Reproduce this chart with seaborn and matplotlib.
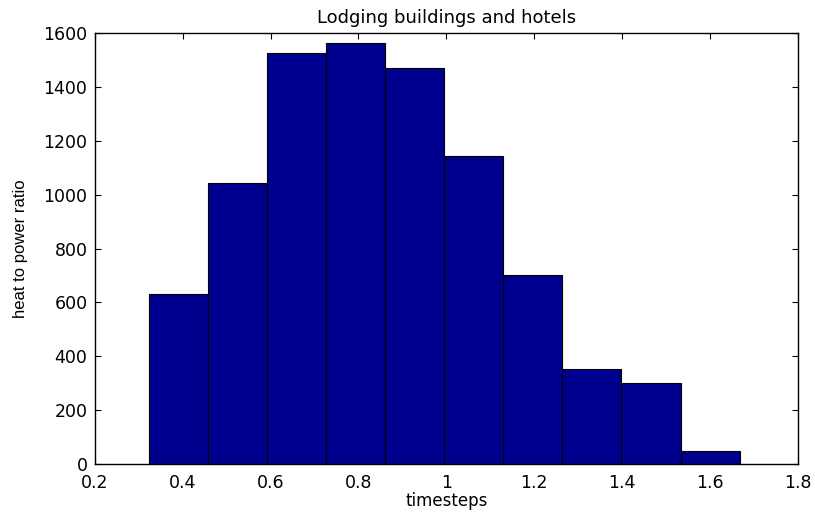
import numpy as np
import pandas as pd
import matplotlib
matplotlib.use("Agg")
import matplotlib.pyplot as plt
import seaborn as sns

# Histogram of heat-to-power ratios
bin_start = 0.323
bin_width = 0.1345
counts = [630, 1045, 1527, 1564, 1471, 1143, 701, 352, 300, 48]
x_ticks = [0.2, 0.4, 0.6, 0.8, 1.0, 1.2, 1.4, 1.6, 1.8]
x_tick_labels = ["0.2", "0.4", "0.6", "0.8", "1", "1.2", "1.4", "1.6", "1.8"]
y_ticks = [0, 200, 400, 600, 800, 1000, 1200, 1400, 1600]

edges = bin_start + bin_width * np.arange(len(counts) + 1)
centers = (edges[:-1] + edges[1:]) / 2
df = pd.DataFrame({"ratio": centers, "count": counts})

sns.set_theme(style="white")
plt.rcParams["font.family"] = ["DejaVu Sans"]
plt.rcParams["text.color"] = "black"
plt.rcParams["axes.labelcolor"] = "black"

fig = plt.figure(figsize=(8.15, 5.14), dpi=100)
ax = fig.add_axes([0.1166, 0.0973, 0.8620, 0.8379])

sns.histplot(data=df, x="ratio", weights="count",
             binwidth=bin_width, binrange=(edges[0], edges[-1]), ax=ax,
             color="#00008F", edgecolor="black", linewidth=0.8, alpha=1.0)

ax.set_xlim(0.2, 1.8)
ax.set_ylim(0, 1600)
ax.set_xticks(x_ticks)
ax.set_xticklabels(x_tick_labels)
ax.set_yticks(y_ticks)
ax.tick_params(direction="in", length=4, width=0.8, top=True, right=True,
               bottom=True, left=True, labelsize=12.5, colors="black",
               labelcolor="black", pad=5.5)
ax.tick_params(axis="x", pad=7.5)
for side in ax.spines.values():
    side.set_visible(True)
    side.set_color("black")
    side.set_linewidth(1.0)

ax.set_title("Lodging buildings and hotels", fontsize=13, pad=7.5,
             color="black")
ax.set_xlabel("timesteps", fontsize=12, labelpad=0, color="black")
ax.set_ylabel("heat to power ratio", fontsize=12, labelpad=11, color="black",
              family=["Liberation Sans", "DejaVu Sans"])

fig.savefig("out.png", dpi=100)
